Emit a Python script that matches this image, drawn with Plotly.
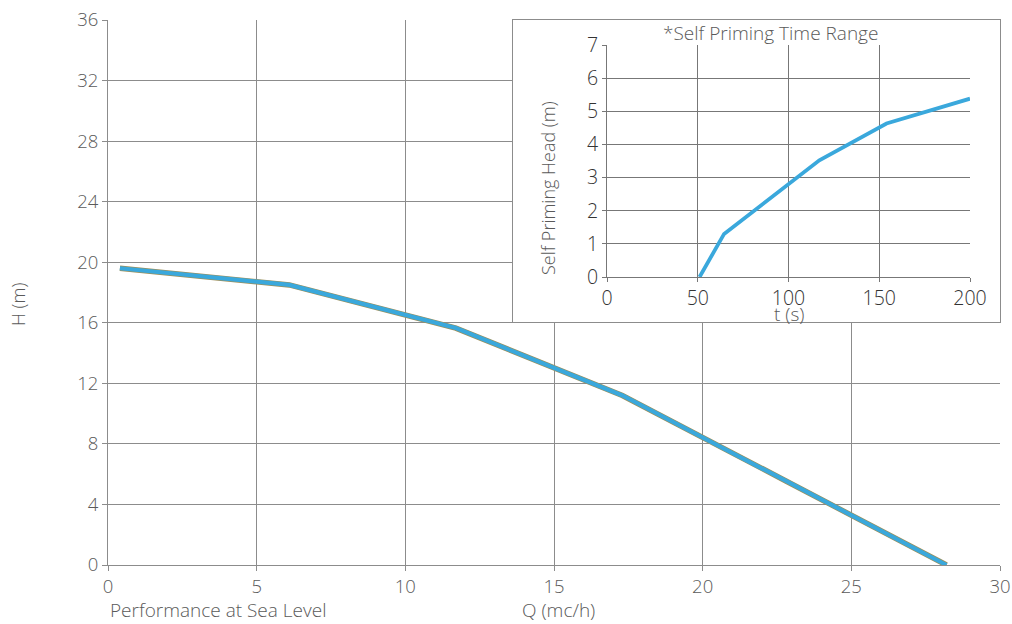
import plotly.graph_objects as go

# Main performance curve
q_flow = [0.4, 6.1, 11.7, 17.3, 22.8, 28.2]
h_head = [19.6, 18.5, 15.65, 11.2, 5.55, 0.0]

# Inset: self priming time
t_sec = [51, 64.5, 117, 154, 200]
sp_head = [0.0, 1.3, 3.52, 4.63, 5.38]

x_ticks = [0, 5, 10, 15, 20, 25, 30]
y_ticks = [0, 4, 8, 12, 16, 20, 24, 28, 32, 36]
tx_ticks = [0, 50, 100, 150, 200]
ty_ticks = [0, 1, 2, 3, 4, 5, 6, 7]

W, H = 1012, 624
L, R, T, B = 108, 12, 20, 59
pw, ph = W - L - R, H - T - B

def px(x):
    return (x - L) / pw

def py(y):
    return (H - B - y) / ph

FONT = "Open Sans"
GRID = "#8c8c8c"
TXT = "#5a5a5a"
BLUE = "#3aa8dc"

fig = go.Figure()
# main curve: thin brownish outline under blue
fig.add_trace(go.Scatter(x=q_flow, y=h_head, mode="lines",
                         line=dict(color="#9c8f5a", width=5.5),
                         xaxis="x", yaxis="y", hoverinfo="skip", showlegend=False))
fig.add_trace(go.Scatter(x=q_flow, y=h_head, mode="lines",
                         line=dict(color=BLUE, width=4.2),
                         xaxis="x", yaxis="y", showlegend=False))
# dummy trace for inset box subplot
fig.add_trace(go.Scatter(x=[0], y=[0], mode="markers", marker=dict(opacity=0),
                         xaxis="x2", yaxis="y2", hoverinfo="skip", showlegend=False))
# inset curve
fig.add_trace(go.Scatter(x=t_sec, y=sp_head, mode="lines",
                         line=dict(color=BLUE, width=3.8),
                         xaxis="x3", yaxis="y3", showlegend=False))

axis_font = dict(family=FONT, size=18.5, color=TXT, weight=300)
inset_font = dict(family=FONT, size=19.5, color="#333333", weight=300)

common = dict(automargin=False, zeroline=False)

fig.update_layout(
    width=W, height=H, autosize=False,
    margin=dict(l=L, r=R, t=T, b=B, autoexpand=False),
    paper_bgcolor="white", plot_bgcolor="white",
    font=dict(family=FONT, color=TXT),
    xaxis=dict(domain=[0, 1], range=[0, 30], tickvals=x_ticks,
               showgrid=True, gridcolor=GRID, gridwidth=1,
               showline=True, linecolor=GRID, linewidth=1,
               ticks="outside", ticklen=5, tickcolor=GRID,
               tickfont=axis_font, anchor="y", **common),
    yaxis=dict(domain=[0, 1], range=[0, 36], tickvals=y_ticks,
               showgrid=True, gridcolor=GRID, gridwidth=1,
               showline=True, linecolor=GRID, linewidth=1,
               ticks="outside", ticklen=5, tickcolor=GRID,
               tickfont=axis_font, anchor="x", **common),
    xaxis2=dict(domain=[px(513), 1.0], range=[0, 1], showgrid=False,
                showticklabels=False, showline=True,
                linecolor=GRID, linewidth=1, mirror=True, ticks="",
                anchor="y2", **common),
    yaxis2=dict(domain=[py(322), 1.0], range=[0, 1], showgrid=False,
                showticklabels=False, showline=True,
                linecolor=GRID, linewidth=1, mirror=True, ticks="",
                anchor="x2", **common),
    xaxis3=dict(domain=[px(607), px(970)], range=[0, 200], tickvals=tx_ticks,
                showgrid=True, gridcolor="#777777", gridwidth=1,
                showline=True, linecolor="#777777", linewidth=1,
                ticks="outside", ticklen=4, tickcolor="#777777",
                tickfont=inset_font, anchor="y3", **common),
    yaxis3=dict(domain=[py(277), py(45)], range=[0, 7], tickvals=ty_ticks,
                showgrid=True, gridcolor="#777777", gridwidth=1,
                showline=True, linecolor="#777777", linewidth=1,
                ticks="outside", ticklen=4, tickcolor="#777777",
                tickfont=inset_font, anchor="x3", **common),
)

ann = [
    dict(text="H (m)", x=px(18), y=py(305), textangle=-90,
         font=dict(family=FONT, size=18, color=TXT, weight=300)),
    dict(text="Performance at Sea Level", x=0, y=py(610), xanchor="left",
         font=dict(family=FONT, size=19, color=TXT, weight=300)),
    dict(text="Q (mc/h)", x=px(558), y=py(610),
         font=dict(family=FONT, size=19, color=TXT, weight=300)),
    dict(text="*Self Priming Time Range", x=px(770), y=py(33),
         font=dict(family=FONT, size=19, color=TXT, weight=300)),
    dict(text="Self Priming Head (m)", x=px(548), y=py(188), textangle=-90,
         font=dict(family=FONT, size=18, color=TXT, weight=300)),
    dict(text="t (s)", x=px(789), y=py(314),
         font=dict(family=FONT, size=19, color=TXT, weight=300)),
]
for a in ann:
    a.update(xref="paper", yref="paper", showarrow=False)
    a.setdefault("xanchor", "center")
    a.setdefault("yanchor", "middle")
fig.update_layout(annotations=ann)

fig.write_html("out.html", config={"responsive": False, "displayModeBar": False},
               post_script="document.body.style.margin='0px';document.body.style.overflow='hidden';")
